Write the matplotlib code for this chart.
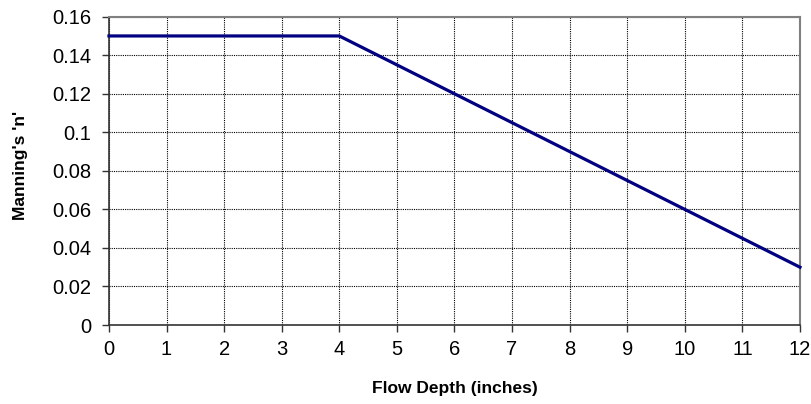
import matplotlib
matplotlib.use("Agg")
import matplotlib.pyplot as plt

plt.rcParams['font.family'] = ['Liberation Sans', 'DejaVu Sans']

# data
depth_in = [0, 4, 12]
mannings_n = [0.15, 0.15, 0.03]
x_ticks = list(range(0, 13))
y_ticks = [0, 0.02, 0.04, 0.06, 0.08, 0.1, 0.12, 0.14, 0.16]
y_tick_labels = ['0', '0.02', '0.04', '0.06', '0.08', '0.1', '0.12', '0.14', '0.16']

fig = plt.figure(figsize=(8.12, 4.04), dpi=100)
ax = fig.add_axes([0.1342, 0.1955, 0.851, 0.7632])

ax.plot(depth_in, mannings_n, color='#000080', lw=2.3, solid_joinstyle='miter', zorder=3, clip_on=False)

ax.set_xlim(0, 12)
ax.set_ylim(0, 0.16)
ax.set_xticks(x_ticks)
ax.set_yticks(y_ticks)
ax.set_yticklabels(y_tick_labels)
ax.tick_params(labelsize=14.5, direction='out', length=5, width=1, color='#333333')
ax.tick_params(axis='y', pad=8)
ax.tick_params(axis='x', pad=6)

ax.grid(True, color='black', linestyle=(0, (1, 1)), linewidth=0.8)
ax.set_axisbelow(True)

for s in ['top', 'right']:
    ax.spines[s].set_color('#808080')
    ax.spines[s].set_linewidth(1.5)
for s in ['left', 'bottom']:
    ax.spines[s].set_color('#333333')
    ax.spines[s].set_linewidth(1.2)

ax.set_xlabel('Flow Depth (inches)', fontsize=12.5, fontweight='bold', va='center')
ax.set_ylabel("Manning's 'n'", fontsize=12.5, fontweight='bold', va='center')
ax.xaxis.set_label_coords(0.5, -0.205)
ax.yaxis.set_label_coords(-0.128, 0.516)

fig.savefig('out.png', dpi=100)
